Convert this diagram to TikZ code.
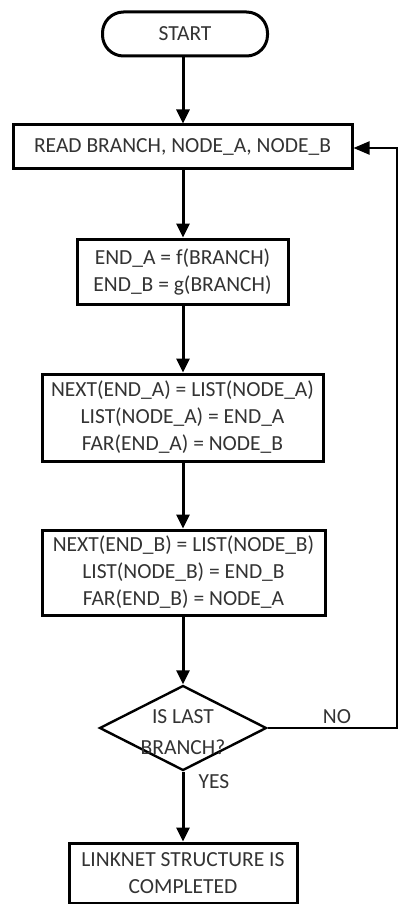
\documentclass[tikz,border=0pt]{standalone}
\usepackage{fontspec}
\setmainfont{Carlito}
\usetikzlibrary{arrows.meta,shapes.geometric}
\definecolor{txtgray}{HTML}{333333}
\begin{document}
\begin{tikzpicture}[x=1pt,y=1pt,
  box/.style={draw=black,line width=3pt,rectangle,inner sep=0pt,fill=white,
    text=txtgray,align=center,font=\fontsize{21.5}{27}\selectfont},
  term/.style={box,rounded corners=21pt},
  decision/.style={draw=black,line width=2.4pt,diamond,inner sep=0pt,
    minimum width=167pt,minimum height=85pt},
  dtext/.style={text=txtgray,align=center,inner sep=0pt,font=\fontsize{21.5}{31}\selectfont},
  lbl/.style={text=txtgray,inner sep=0pt,font=\fontsize{21.5}{24}\selectfont},
  flow/.style={line width=3pt,-{Triangle[length=14pt,width=13pt]}},
  back/.style={line width=2.2pt,-{Triangle[length=16pt,width=13pt]}}
]
\useasboundingbox (0,0) rectangle (398,-904);
\node[term,minimum width=165pt,minimum height=44pt] (start) at (185,-34) {START};
\node[box,minimum width=339pt,minimum height=44pt] (read) at (182.5,-147) {READ BRANCH, NODE\_A, NODE\_B};
\node[box,minimum width=211pt,minimum height=65pt] (ends) at (182.5,-271.5) {END\_A = f(BRANCH)\\END\_B = g(BRANCH)};
\node[box,minimum width=281pt,minimum height=87pt] (nexta) at (182.5,-417.5) {NEXT(END\_A) = LIST(NODE\_A)\\LIST(NODE\_A) = END\_A\\FAR(END\_A) = NODE\_B};
\node[box,minimum width=283pt,minimum height=85pt] (nextb) at (183.5,-572.5) {NEXT(END\_B) = LIST(NODE\_B)\\LIST(NODE\_B) = END\_B\\FAR(END\_B) = NODE\_A};
\node[decision] (dec) at (183,-728) {};
\node[dtext] (dectxt) at (183,-732) {IS LAST\\BRANCH?};
\node[box,minimum width=228pt,minimum height=60pt] (done) at (183,-873) {LINKNET STRUCTURE IS\\COMPLETED};
\node[lbl] (no) at (337,-717) {NO};
\node[lbl] (yes) at (214,-782) {YES};
\coordinate (c1) at (397,-728);
\coordinate (c2) at (397,-148);
\draw[flow] (start.south -| 183,0) -- (read.north -| 183,0);
\draw[flow] (read.south -| 183,0) -- (ends.north -| 183,0);
\draw[flow] (ends.south -| 183,0) -- (nexta.north -| 183,0);
\draw[flow] (nexta.south -| 183,0) -- (nextb.north -| 183,0);
\draw[flow] (nextb.south -| 183,0) -- (dec.north);
\draw[flow] (dec.south) -- (done.north);
\draw[back] (dec.east) -- (c1) -- (c2) -- (c2 -| read.east);
\end{tikzpicture}
\end{document}
